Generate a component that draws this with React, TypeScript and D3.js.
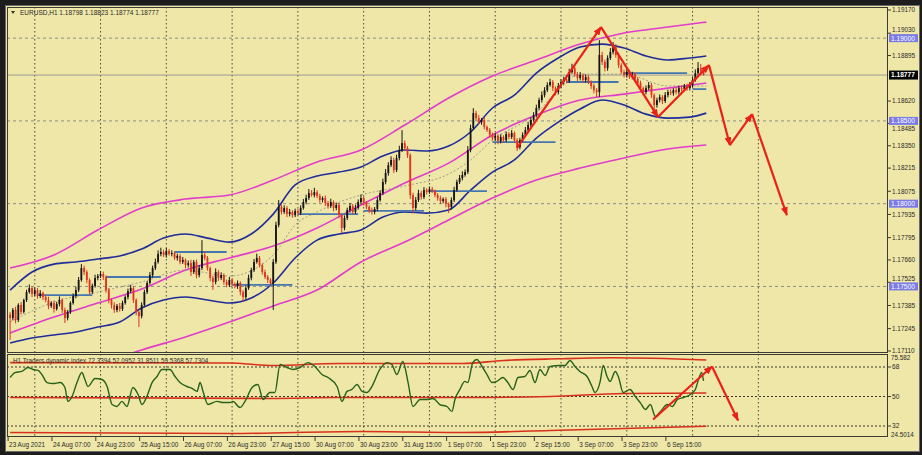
import React from 'react';
import * as d3 from 'd3';

// ---- candles (EURUSD H1, bar 0 = 23 Aug 15:00) ----
const firstOpen = 1.1733;
const closes = [
  1.17309, 1.17358, 1.17297, 1.17388, 1.17346, 1.17418, 1.17466, 1.1749, 1.17454, 1.17478,
  1.17442, 1.1746, 1.17436, 1.17418, 1.17382, 1.174, 1.17364, 1.17394, 1.17418, 1.17358,
  1.17309, 1.17346, 1.174, 1.17442, 1.17478, 1.17539, 1.17611, 1.17587, 1.17539, 1.17466,
  1.17503, 1.17551, 1.17563, 1.17575, 1.17557, 1.17478, 1.17418, 1.17388, 1.17358, 1.17382,
  1.17364, 1.174, 1.17436, 1.17472, 1.1749, 1.17418, 1.17346, 1.17321, 1.17388, 1.17466,
  1.17521, 1.17569, 1.17611, 1.17648, 1.17696, 1.17708, 1.1769, 1.17714, 1.17696, 1.17702,
  1.17672, 1.17684, 1.17648, 1.1766, 1.17629, 1.17641, 1.17587, 1.17648, 1.17569, 1.17611,
  1.1769, 1.17672, 1.17611, 1.17551, 1.17527, 1.17587, 1.17551, 1.17569, 1.17527, 1.17509,
  1.17539, 1.17515, 1.17503, 1.17521, 1.17466, 1.17436, 1.1749, 1.17551, 1.17599, 1.17648,
  1.17672, 1.17629, 1.17587, 1.17557, 1.17539, 1.17521, 1.17648, 1.17871, 1.1798, 1.1795,
  1.17974, 1.17937, 1.1795, 1.17931, 1.17956, 1.17943, 1.17974, 1.1801, 1.18034, 1.18064,
  1.18052, 1.1807, 1.18046, 1.18022, 1.18034, 1.18004, 1.17986, 1.1801, 1.17974, 1.17992,
  1.17931, 1.17853, 1.17913, 1.17962, 1.17986, 1.1795, 1.17974, 1.1801, 1.18034, 1.18004,
  1.1798, 1.17962, 1.1795, 1.17968, 1.18022, 1.18064, 1.18131, 1.18185, 1.18233, 1.18264,
  1.18203, 1.18276, 1.18324, 1.18366, 1.18336, 1.18294, 1.18052, 1.17974, 1.18022, 1.18064,
  1.1804, 1.18082, 1.1807, 1.18088, 1.18076, 1.18052, 1.18034, 1.18016, 1.18028, 1.17998,
  1.1798, 1.18022, 1.18082, 1.18131, 1.18155, 1.18173, 1.18191, 1.18324, 1.18457, 1.18547,
  1.18517, 1.18493, 1.18505, 1.18463, 1.18445, 1.18415, 1.18396, 1.18409, 1.18378, 1.18403,
  1.18384, 1.18421, 1.18403, 1.18427, 1.18384, 1.18342, 1.18384, 1.18415, 1.18445, 1.18475,
  1.18505, 1.18535, 1.18578, 1.18626, 1.18656, 1.18686, 1.18717, 1.18735, 1.18698, 1.18674,
  1.18711, 1.18735, 1.18753, 1.18741, 1.18795, 1.18819, 1.18783, 1.18759, 1.18777, 1.18747,
  1.18765, 1.18735, 1.18711, 1.18686, 1.18674, 1.18898, 1.18856, 1.18819, 1.1888, 1.18916,
  1.18946, 1.18898, 1.18837, 1.18795, 1.18777, 1.18795, 1.18765, 1.18783, 1.18753, 1.18729,
  1.18698, 1.18674, 1.18698, 1.18717, 1.18656, 1.18596, 1.18626, 1.18644, 1.1862, 1.18656,
  1.18674, 1.18668, 1.18686, 1.18674, 1.18698, 1.18692, 1.18711, 1.18698, 1.18717, 1.18747,
  1.18789, 1.18819, 1.18798, 1.18777,
];
// wick lengths beyond the body, in points (0.00001)
const wickUp = [
  15, 12, 20, 10, 18, 8, 14, 22, 10, 16, 12, 18, 9, 14, 20, 11, 15, 13, 22, 10,
  14, 12, 10, 16, 20, 18, 24, 15, 12, 10, 14, 20, 12, 18, 15, 10, 13, 9, 16, 12,
  18, 14, 10, 15, 20, 12, 10, 8, 16, 14, 12, 18, 15, 20, 22, 26, 14, 18, 12, 16,
  10, 14, 12, 18, 9, 16, 20, 12, 14, 18, 90, 20, 12, 10, 14, 22, 12, 16, 10, 14,
  18, 12, 10, 15, 9, 12, 16, 20, 14, 18, 26, 12, 10, 14, 12, 10, 18, 20, 42, 14,
  16, 12, 18, 10, 14, 12, 16, 18, 20, 24, 18, 26, 12, 14, 10, 16, 12, 20, 10, 14,
  12, 10, 16, 14, 18, 12, 20, 16, 22, 10, 12, 10, 14, 12, 18, 16, 20, 24, 18, 22,
  14, 20, 26, 78, 16, 12, 10, 14, 18, 20, 14, 18, 12, 16, 14, 10, 12, 14, 10, 12,
  10, 16, 20, 14, 18, 22, 16, 24, 20, 30, 14, 18, 12, 16, 10, 12, 14, 18, 12, 16,
  10, 14, 12, 18, 10, 12, 14, 16, 18, 20, 16, 18, 20, 14, 22, 18, 16, 20, 12, 10,
  18, 16, 14, 12, 20, 26, 14, 12, 18, 10, 16, 12, 10, 14, 12, 90, 20, 14, 16, 24,
  30, 18, 14, 12, 16, 20, 12, 14, 10, 12, 14, 10, 16, 18, 12, 10, 14, 16, 12, 18,
  14, 16, 12, 18, 14, 16, 12, 14, 18, 20, 22, 36, 25, 25,
];
const wickDn = [
  132, 14, 20, 12, 16, 10, 12, 9, 18, 14, 16, 12, 18, 14, 20, 12, 22, 10, 14, 18,
  30, 14, 12, 10, 14, 12, 10, 18, 20, 16, 12, 10, 14, 12, 18, 16, 20, 22, 18, 14,
  16, 12, 10, 14, 12, 18, 20, 66, 14, 10, 12, 10, 14, 12, 10, 14, 12, 16, 10, 14,
  12, 16, 14, 12, 18, 14, 24, 12, 20, 14, 12, 14, 16, 20, 48, 14, 18, 12, 16, 14,
  12, 16, 14, 18, 20, 24, 12, 10, 14, 12, 10, 14, 16, 12, 18, 14, 163, 12, 14, 16,
  12, 18, 14, 16, 12, 14, 12, 10, 14, 12, 10, 14, 12, 16, 14, 18, 16, 12, 20, 14,
  18, 30, 14, 12, 16, 14, 12, 10, 14, 16, 14, 18, 16, 14, 12, 10, 12, 14, 16, 12,
  18, 12, 14, 12, 16, 18, 24, 30, 14, 12, 16, 12, 14, 10, 12, 14, 16, 18, 14, 20,
  36, 14, 12, 10, 12, 14, 10, 12, 14, 12, 14, 12, 16, 14, 12, 18, 14, 16, 20, 14,
  16, 12, 14, 12, 18, 24, 14, 12, 10, 14, 12, 10, 14, 12, 16, 14, 12, 10, 18, 20,
  14, 12, 16, 14, 12, 10, 16, 18, 14, 16, 14, 12, 18, 20, 30, 30, 18, 20, 16, 12,
  14, 16, 18, 12, 14, 16, 12, 14, 16, 18, 20, 16, 14, 12, 18, 42, 16, 14, 18, 12,
  14, 12, 16, 14, 12, 14, 12, 16, 14, 12, 10, 12, 14, 3,
];

// ---- time axis ----
const timeLabelBars = [0, 16, 32, 48, 64, 80, 96, 112, 128, 144, 160, 176, 192, 208, 224, 240];
const timeLabels = [
  '23 Aug 2021', '24 Aug 07:00', '24 Aug 23:00', '25 Aug 15:00', '26 Aug 07:00', '26 Aug 23:00',
  '27 Aug 15:00', '30 Aug 07:00', '30 Aug 23:00', '31 Aug 15:00', '1 Sep 07:00', '1 Sep 23:00',
  '2 Sep 15:00', '3 Sep 07:00', '3 Sep 23:00', '6 Sep 15:00',
];
const gridBars = [9, 33, 57, 81, 105, 129, 153, 177, 201, 225, 249, 273];

// ---- price axis ----
const priceTicks = [
  1.1917, 1.1903, 1.18895, 1.1862, 1.18485, 1.1835, 1.18215, 1.18075,
  1.17935, 1.17795, 1.1766, 1.17525, 1.17385, 1.17245, 1.1711,
];
const roundLevels = [1.19, 1.185, 1.18, 1.175];
const lastPrice = 1.18777;

// ---- bollinger style bands (blue) ----
const bandBars = [0, 8, 16, 24, 32, 40, 48, 56, 64, 72, 80, 88, 96, 104, 112, 120, 128, 136, 144, 152, 160, 168, 176, 184, 192, 200, 208, 216, 224, 232, 240, 248, 254];
const bbUpper = [
  1.17478, 1.17587, 1.17635, 1.17648, 1.17666, 1.17684, 1.17726, 1.17792, 1.17817, 1.17792, 1.17768,
  1.17817, 1.17937, 1.18113, 1.18167, 1.18191, 1.18221, 1.18288, 1.18324, 1.18318, 1.18348, 1.18433,
  1.18578, 1.18656, 1.18789, 1.1888, 1.18946, 1.18964, 1.1894, 1.18892, 1.18868, 1.1888, 1.18892,
];
const bbLower = [
  1.17158, 1.17188, 1.17207, 1.17225, 1.17255, 1.17285, 1.1737, 1.17418, 1.17436, 1.17418, 1.174,
  1.1743, 1.17521, 1.17672, 1.1778, 1.17817, 1.17841, 1.17919, 1.1795, 1.17943, 1.17962, 1.18082,
  1.18191, 1.18264, 1.18396, 1.18493, 1.18572, 1.18626, 1.18596, 1.18541, 1.18517, 1.18523, 1.18547,
];
const maBars = [0, 16, 32, 48, 64, 80, 96, 104, 112, 128, 144, 160, 168, 176, 192, 200, 208, 224, 240, 254];
const maLine = [
  1.17285, 1.17406, 1.17466, 1.17527, 1.17599, 1.17563, 1.1769, 1.17871, 1.1795, 1.18052,
  1.18107, 1.18179, 1.18264, 1.18384, 1.18547, 1.18686, 1.18783, 1.18783, 1.18711, 1.18711,
];

// ---- envelope (magenta) ----
const envBars = [0, 16, 32, 48, 64, 80, 96, 112, 128, 144, 160, 176, 192, 208, 224, 240, 254];
const envUpper = [1.17611, 1.1769, 1.17841, 1.17974, 1.18028, 1.18052, 1.18143, 1.18252, 1.18324, 1.18475, 1.18638, 1.18771, 1.18868, 1.18964, 1.19031, 1.19067, 1.19097];
const envMid = [1.17219, 1.17315, 1.174, 1.17484, 1.17599, 1.17672, 1.17744, 1.17853, 1.17992, 1.18125, 1.18245, 1.18415, 1.18535, 1.18626, 1.18662, 1.18698, 1.18729];
const envLower = [1.16844, 1.16923, 1.17025, 1.17116, 1.17195, 1.17285, 1.17382, 1.17478, 1.17648, 1.17768, 1.17901, 1.18034, 1.18143, 1.18215, 1.18276, 1.1833, 1.18354];

// ---- horizontal level segments [fromBar, toBar, price] ----
const levelSegments = [
  [10, 30, 1.17448], [35, 55, 1.17557], [60, 79, 1.17708], [81, 103, 1.17509],
  [105, 127, 1.17937], [129, 151, 1.17956], [153, 174, 1.18076], [176, 199, 1.18372],
  [203, 222, 1.18735], [224, 247, 1.18789], [249, 254, 1.18692],
];

// ---- hand drawn arrows ----
const zigzagBars = [184.9, 215.6, 236.4, 255, 262.6, 270.7, 283.4];
const zigzagPrices = [1.18336, 1.19067, 1.18523, 1.18837, 1.18354, 1.18541, 1.17931];
const tdiArrowBars = [234.6, 256.1, 265.6];
const tdiArrowValues = [36.0, 68.3, 35.4];

// ---- Traders Dynamic Index ----
const tdiPrice = [
  [0, 61.6], [1.8, 64.6], [4.3, 65.3], [6.5, 67.7], [8.4, 66.5], [10.2, 65.9], [11.6, 63.4], [13.5, 58.5],
  [15.7, 57.9], [18.2, 58.5], [20, 55.5], [21.1, 47.0], [22.6, 50.0], [24.4, 58.5], [26.2, 64.6], [27.3, 60.4],
  [28.4, 56.1], [31, 61.0], [33.5, 60.4], [35.4, 56.1], [37.2, 45.1], [39, 43.9], [40.8, 47.0], [42.6, 43.9],
  [44.8, 55.5], [46.7, 51.2], [48.1, 45.1], [49.9, 50.0], [51.8, 58.5], [53.6, 62.2], [55.4, 66.5], [58.3, 66.5],
  [60.2, 62.2], [62, 58.5], [64.5, 56.1], [66.4, 54.9], [68.2, 53.1], [69.3, 58.5], [70.4, 53.1], [72.2, 45.1],
  [75.5, 47.0], [77.7, 46.3], [80.2, 46.3], [81.3, 47.0], [83.9, 43.3], [85.7, 47.0], [88.3, 55.5], [90.4, 57.3],
  [92.3, 48.2], [94.8, 52.4], [96.6, 52.4], [98.5, 69.5], [101, 67.7], [103.2, 66.5], [105.8, 67.7], [108.7, 70.7],
  [111.2, 68.3], [113.8, 63.4], [116, 61.6], [119.3, 56.1], [121.1, 47.0], [122.9, 53.1], [124.7, 54.3], [126.6, 57.3],
  [128.4, 53.1], [130.2, 52.4], [132, 56.1], [134.9, 66.5], [137.5, 70.7], [139.3, 69.5], [141.1, 63.4], [143.3, 71.4],
  [145.2, 58.5], [147, 43.9], [149.6, 48.2], [152.1, 48.2], [154.3, 48.8], [156.8, 45.1], [159.4, 43.9], [161.2, 40.9],
  [162.3, 48.2], [164.1, 54.3], [165.9, 59.2], [167, 58.5], [168.8, 70.7], [170.3, 72.6], [172.2, 68.3], [174, 63.4],
  [175.8, 58.5], [177.6, 59.2], [179.8, 61.6], [181.6, 58.5], [183.5, 54.3], [185.3, 61.6], [187.8, 62.2], [189.7, 65.9],
  [191.5, 58.5], [193.3, 66.5], [195.2, 62.8], [197, 68.3], [200.6, 68.9], [202.4, 68.9], [204.3, 72.0], [206.1, 68.3],
  [207.9, 65.3], [210.5, 62.2], [212.3, 56.1], [213.4, 52.4], [215.3, 59.2], [216.4, 68.9], [217.8, 62.2], [218.9, 59.2],
  [220.8, 65.3], [221.9, 62.2], [223.7, 52.4], [226.2, 54.3], [228.1, 50.0], [229.9, 46.3], [231.8, 42.1], [233.6, 45.1],
  [235.4, 37.8], [237.3, 40.9], [239.8, 45.1], [241.6, 43.9], [243.5, 48.2], [245.7, 49.4], [248.2, 51.2], [250, 54.3],
  [251.5, 62.0], [252.3, 64.6], [253, 59.5],
];
const tdiUpperBars = [0, 80, 96, 120, 165, 180, 200, 220, 254];
const tdiUpper = [70.7, 70.4, 68.9, 70.1, 70.1, 72.0, 73.0, 73.6, 72.3];
const tdiMidBars = [0, 95, 120, 165, 197, 224, 254];
const tdiMid = [49.4, 48.8, 49.4, 49.4, 50.0, 51.8, 52.1];
const tdiLowerBars = [0, 80, 128, 165, 197, 224, 254];
const tdiLower = [28.0, 27.4, 28.6, 28.0, 29.3, 30.5, 31.85];
const tdiLevels = [68, 50, 32];

const W = 922;
const H = 455;
const plotL = 7;
const plotR = 888;
const mainT = 7;
const mainB = 352;
const indT = 354;
const indB = 437;
const FONT = '"Liberation Sans", Arial, sans-serif';
const BG = '#efe7a8';
const TXT = '#2a2a2a';

const App: React.FC = () => {
  const x = d3.scaleLinear().domain([0, 240]).range([10.1, 667.9]);
  const y = d3.scaleLinear().domain([1.1711, 1.1917]).range([351, 10]);
  const yT = d3.scaleLinear().domain([32, 68]).range([426, 367]);

  const priceLine = (bars: number[], vals: number[]) =>
    d3.line<number>().x((_, i) => x(bars[i])).y(v => y(v)).curve(d3.curveMonotoneX)(vals) || '';
  const tdiLine = (bars: number[], vals: number[]) =>
    d3.line<number>().x((_, i) => x(bars[i])).y(v => yT(v)).curve(d3.curveMonotoneX)(vals) || '';
  const greenPath = d3.line<number[]>().x(d => x(d[0])).y(d => yT(d[1])).curve(d3.curveMonotoneX)(tdiPrice) || '';

  const candles = closes.map((c, i) => {
    const o = i === 0 ? firstOpen : closes[i - 1];
    const hi = Math.max(o, c) + wickUp[i] * 1e-5;
    const lo = Math.min(o, c) - wickDn[i] * 1e-5;
    return { i, o, c, hi, lo, up: c >= o };
  });

  const zig = zigzagBars.map((b, i) => [x(b), y(zigzagPrices[i])]);
  const tdiZig = tdiArrowBars.map((b, i) => [x(b), yT(tdiArrowValues[i])]);

  // price labels that collide with a highlighted box are nudged just clear of it
  const boxes = roundLevels.map(p => [y(p) - 4, y(p) + 4]);
  const labelY = (p: number) => {
    const ty = y(p);
    const b = boxes.find(bx => ty > bx[0] - 6 && ty < bx[1] + 6);
    if (!b) return ty + 2.4;
    return ty < (b[0] + b[1]) / 2 ? b[0] - 1.8 : b[1] + 5.6;
  };

  return (
    <svg width={W} height={H} style={{ position: 'absolute', left: 0, top: 0, display: 'block' }}
      fontFamily={FONT}>
      <defs>
        <clipPath id="mainClip"><rect x={plotL} y={mainT} width={plotR - plotL} height={mainB - mainT} /></clipPath>
        <clipPath id="indClip"><rect x={plotL} y={indT} width={plotR - plotL} height={indB - indT} /></clipPath>
        <marker id="arrow" viewBox="0 0 10 8" refX="9" refY="4" markerWidth="9" markerHeight="7"
          markerUnits="userSpaceOnUse" orient="auto">
          <path d="M0,0 L10,4 L0,8 z" fill="#e82218" />
        </marker>
      </defs>

      <rect x={0} y={0} width={W} height={H} fill="#1d1d1d" />
      <rect x={5.5} y={5.5} width={914} height={446} fill={BG} stroke="#6a6a6a" />

      {/* grid */}
      {gridBars.map(b => (
        <g key={'g' + b}>
          <line x1={x(b)} x2={x(b)} y1={mainT} y2={mainB} stroke="#4a4a3a" strokeWidth={1} strokeDasharray="1.5,2.5" />
          <line x1={x(b)} x2={x(b)} y1={indT} y2={indB} stroke="#4a4a3a" strokeWidth={1} strokeDasharray="1.5,2.5" />
        </g>
      ))}
      {roundLevels.map(p => (
        <line key={'rl' + p} x1={plotL} x2={plotR} y1={y(p)} y2={y(p)} stroke="#8d8d86" strokeDasharray="3,3" />
      ))}
      <line x1={plotL} x2={plotR} y1={y(lastPrice)} y2={y(lastPrice)} stroke="#9a9a94" strokeWidth={1} />

      <g clipPath="url(#mainClip)">
        {/* envelope */}
        {[envUpper, envMid, envLower].map((vals, k) => (
          <path key={'env' + k} d={priceLine(envBars, vals)} fill="none" stroke="#e23ccc" strokeWidth={1.6} />
        ))}
        {/* bands */}
        <path d={priceLine(maBars, maLine)} fill="none" stroke="#8a8a80" strokeWidth={0.8} strokeDasharray="2,2" />
        {[bbUpper, bbLower].map((vals, k) => (
          <path key={'bb' + k} d={priceLine(bandBars, vals)} fill="none" stroke="#1f2c9a" strokeWidth={1.6} />
        ))}
        {/* level segments */}
        {levelSegments.map((s, k) => (
          <line key={'ls' + k} x1={x(s[0])} x2={x(s[1])} y1={y(s[2])} y2={y(s[2])} stroke="#4676b0" strokeWidth={1.8} />
        ))}
        {/* candles */}
        {candles.map(d => {
          const col = d.up ? '#141414' : '#e3321e';
          const top = y(Math.max(d.o, d.c));
          const h = Math.max(1, Math.abs(y(d.o) - y(d.c)));
          return (
            <g key={'c' + d.i}>
              <line x1={x(d.i)} x2={x(d.i)} y1={y(d.hi)} y2={y(d.lo)} stroke={col} strokeWidth={1} />
              <rect x={x(d.i) - 0.9} y={top} width={1.8} height={h} fill={col} />
            </g>
          );
        })}
        {/* zigzag arrows */}
        {zig.slice(1).map((p, k) => (
          <line key={'z' + k} x1={zig[k][0]} y1={zig[k][1]} x2={p[0]} y2={p[1]}
            stroke="#e82218" strokeWidth={2.2} markerEnd="url(#arrow)" />
        ))}
      </g>

      {/* indicator window */}
      {tdiLevels.map(v => (
        <line key={'tl' + v} x1={plotL} x2={plotR} y1={yT(v)} y2={yT(v)} stroke="#3a3a30" strokeDasharray="2,2" />
      ))}
      <g clipPath="url(#indClip)">
        <path d={tdiLine(tdiUpperBars, tdiUpper)} fill="none" stroke="#d8301c" strokeWidth={1.6} />
        <path d={tdiLine(tdiMidBars, tdiMid)} fill="none" stroke="#d8301c" strokeWidth={1.6} />
        <path d={tdiLine(tdiLowerBars, tdiLower)} fill="none" stroke="#d8301c" strokeWidth={1.6} />
        <path d={greenPath} fill="none" stroke="#26621a" strokeWidth={1.4} />
        {tdiZig.slice(1).map((p, k) => (
          <line key={'tz' + k} x1={tdiZig[k][0]} y1={tdiZig[k][1]} x2={p[0]} y2={p[1]}
            stroke="#e82218" strokeWidth={2.2} markerEnd="url(#arrow)" />
        ))}
      </g>

      {/* frames */}
      <rect x={plotL + 0.5} y={mainT + 0.5} width={plotR - plotL - 1} height={mainB - mainT} fill="none" stroke="#3c3c34" />
      <rect x={plotL + 0.5} y={indT + 0.5} width={plotR - plotL - 1} height={indB - indT - 1} fill="none" stroke="#3c3c34" />

      {/* price axis */}
      {priceTicks.map(p => (
        <g key={'pt' + p}>
          <line x1={plotR} x2={plotR + 3} y1={y(p)} y2={y(p)} stroke="#3c3c34" />
          <text x={892} y={labelY(p)} fontSize={6.4} fill={TXT}>{p.toFixed(5)}</text>
        </g>
      ))}
      {roundLevels.map(p => (
        <g key={'rb' + p}>
          <rect x={889} y={y(p) - 4} width={29} height={8} fill="#7b7be6" />
          <text x={891} y={y(p) + 2.4} fontSize={6.6} fill="#ffffff">{p.toFixed(5)}</text>
        </g>
      ))}
      <rect x={889} y={y(lastPrice) - 4.5} width={29} height={9} fill="#000000" />
      <text x={891} y={y(lastPrice) + 2.4} fontSize={6.6} fill="#ffffff" fontWeight="bold">{lastPrice.toFixed(5)}</text>

      {/* indicator axis */}
      <text x={891} y={yT(75.582) + 5} fontSize={6.3} fill={TXT}>75.582</text>
      {tdiLevels.map(v => (
        <g key={'ta' + v}>
          <line x1={plotR} x2={plotR + 3} y1={yT(v)} y2={yT(v)} stroke="#3c3c34" />
          <text x={892} y={yT(v) + 2.4} fontSize={6.6} fill={TXT}>{v}</text>
        </g>
      ))}
      <text x={891} y={yT(24.5014) - 1} fontSize={6.3} fill={TXT}>24.5014</text>

      {/* time axis */}
      {timeLabelBars.map((b, k) => (
        <g key={'tx' + b}>
          <line x1={x(b) - 2} x2={x(b) - 2} y1={indB} y2={indB + 4} stroke="#3c3c34" />
          <text x={x(b) - 1} y={447} fontSize={6.4} fill={TXT}>{timeLabels[k]}</text>
        </g>
      ))}

      {/* titles */}
      <path d="M11,11 L15,11 L13,14 z" fill="#333" />
      <text x={20} y={15} fontSize={6.5} fill={TXT}>EURUSD,H1  1.18798 1.18823 1.18774 1.18777</text>
      <text x={13} y={363} fontSize={6.3} fill={TXT}>H1 Traders dynamic index 72.3394 52.0952 31.8511 59.5368 57.7304</text>
    </svg>
  );
};

export default App;
